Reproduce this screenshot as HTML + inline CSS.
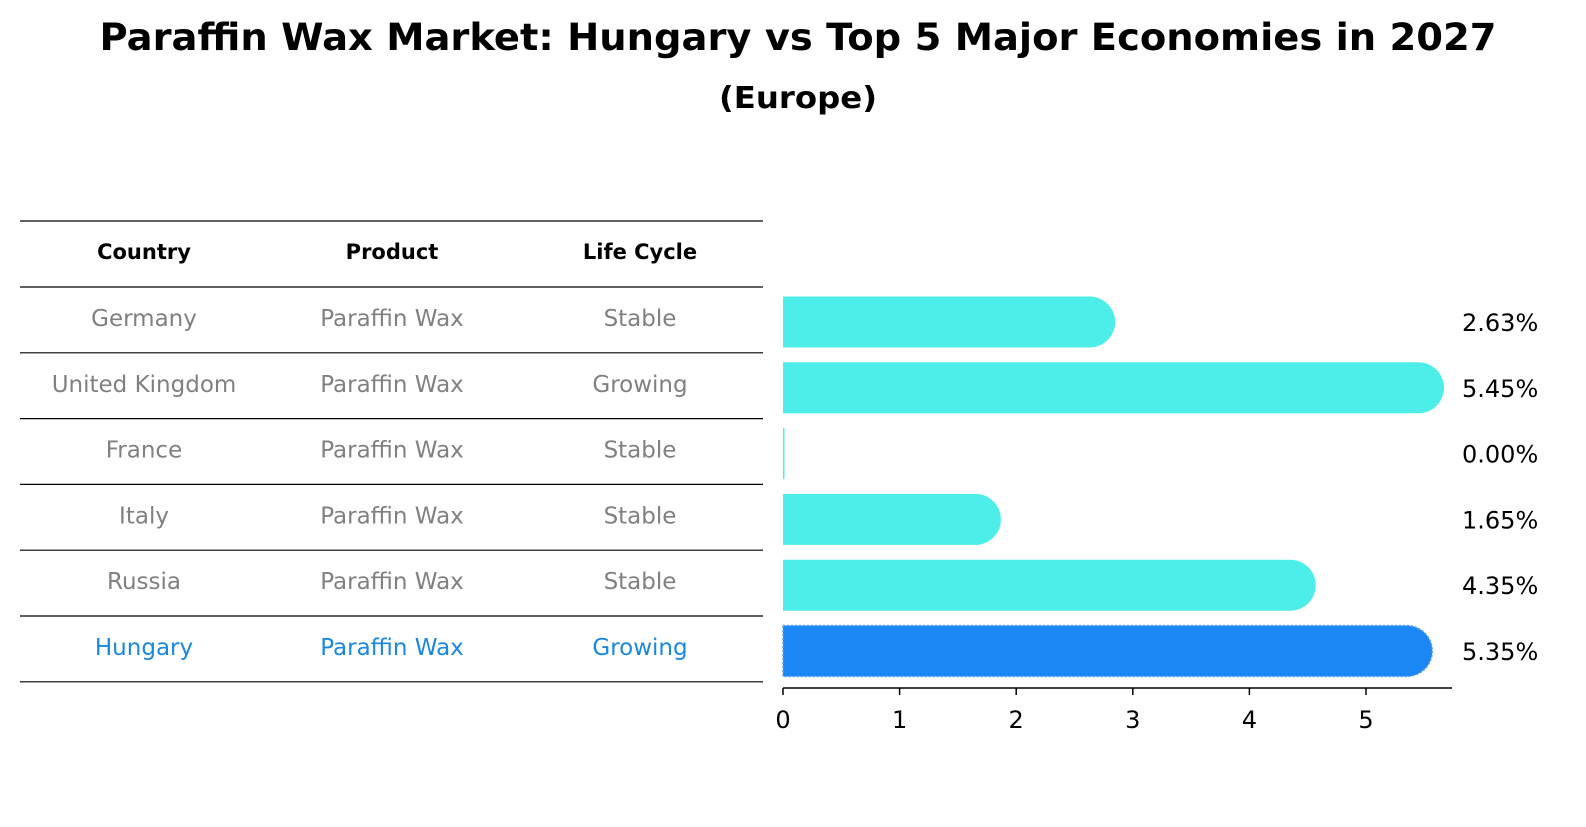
<!DOCTYPE html>
<html><head><meta charset="utf-8"><style>
body{margin:0;background:#fff;font-family:"DejaVu Sans","Liberation Sans",sans-serif;}
svg text{font-family:"DejaVu Sans","Liberation Sans",sans-serif;}
</style></head><body>
<svg width="1586" height="823" viewBox="0 0 1586 823">
<text x="798" y="50" text-anchor="middle" font-size="37" font-weight="bold" textLength="1397" lengthAdjust="spacingAndGlyphs">Paraffin Wax Market: Hungary vs Top 5 Major Economies in 2027</text>
<text x="798" y="108" text-anchor="middle" font-size="30" font-weight="bold" textLength="158" lengthAdjust="spacingAndGlyphs">(Europe)</text>
<g id="table"></g>
<g id="bars"></g>
</svg>
<script>
const countries=["Germany","United Kingdom","France","Italy","Russia","Hungary"];
const products=["Paraffin Wax","Paraffin Wax","Paraffin Wax","Paraffin Wax","Paraffin Wax","Paraffin Wax"];
const lifeCycles=["Stable","Growing","Stable","Stable","Stable","Growing"];
const growth=[2.63,5.45,0.00,1.65,4.35,5.35];
const ticks=[0,1,2,3,4,5];
const NS="http://www.w3.org/2000/svg";
function mk(tag,attrs,parent,txt){const e=document.createElementNS(NS,tag);for(const k in attrs)e.setAttribute(k,attrs[k]);if(txt!==undefined)e.textContent=txt;parent.appendChild(e);return e;}
const tbl=document.getElementById('table');
const rowY=i=>287+i*65.8;
const colX=[144,392,640];
const lineYs=[221,287];
for(let i=1;i<=countries.length;i++)lineYs.push(rowY(i));
lineYs.forEach((y,i)=>{const l=mk('line',{x1:20,x2:763,y1:y,y2:y,stroke:'#000','stroke-width':1.2},tbl);

});
["Country","Product","Life Cycle"].forEach((h,j)=>{const t=mk('text',{x:colX[j],y:259,'text-anchor':'middle','font-size':21,'font-weight':'bold'},tbl,h);

});
countries.forEach((c,i)=>{const y=rowY(i)+39;const col=i===countries.length-1?'#1a87e0':'#808080';
[c,products[i],lifeCycles[i]].forEach((v,j)=>{const t=mk('text',{x:colX[j],y:y,'text-anchor':'middle','font-size':23,fill:col},tbl,v);

});});
const g=document.getElementById('bars');
const x0=783,unit=116.6;
const xs=v=>x0+v*unit;
const bh=51;
growth.forEach((v,i)=>{const cy=rowY(i)+35;const x1=xs(v);const r=bh/2;const hung=i===growth.length-1;
let p;
if(v>0)p=mk('path',{d:`M${x0},${cy-r}H${x1}A${r},${r} 0 0 1 ${x1},${cy+r}H${x0}Z`,fill:hung?'#1a87f5':'#4deeea',stroke:hung?'#5aa0f0':'none','stroke-dasharray':hung?'2,2':'none','stroke-width':1.5},g);
else p=mk('rect',{x:x0,y:cy-r,width:1.5,height:bh,fill:'#4deeea'},g);


const t=mk('text',{x:1462,y:cy+9,'font-size':24},g,v.toFixed(2)+'%');

});
const ax=mk('line',{x1:x0,x2:1452,y1:688,y2:688,stroke:'#000','stroke-width':1.5},g);


ticks.forEach(t=>{const l=mk('line',{x1:xs(t),x2:xs(t),y1:688,y2:695,stroke:'#000','stroke-width':1.5},g);


const tx=mk('text',{x:xs(t),y:728,'text-anchor':'middle','font-size':24},g,String(t));

});
</script>
</body></html>
